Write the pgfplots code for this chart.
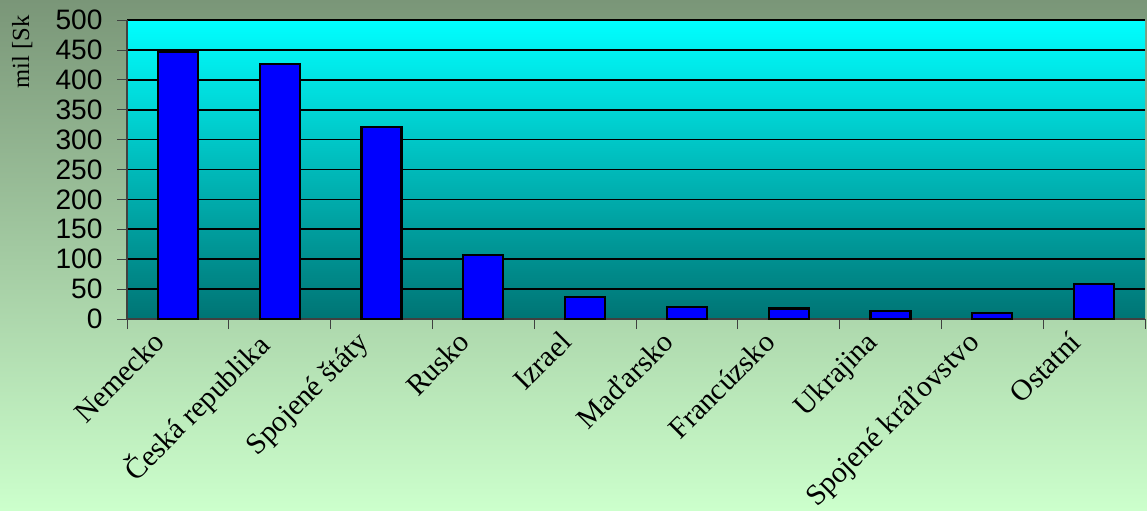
\documentclass[border=0pt]{standalone}
\usepackage{pgfplots}
\pgfplotsset{compat=1.18}
\usepackage{fontspec}
\setmainfont{Liberation Serif}
\newfontfamily\arial{Liberation Sans}
\usetikzlibrary{backgrounds}

\definecolor{bgtop}{RGB}{122,150,120}
\definecolor{bgbot}{RGB}{204,255,204}
\definecolor{plottop}{RGB}{0,255,255}
\definecolor{plotbot}{RGB}{0,116,116}
\definecolor{barblue}{RGB}{0,0,255}

\begin{document}
\begin{tikzpicture}
\path[use as bounding box] (0,0) rectangle (11.47cm,5.10cm);
\begin{axis}[
    at={(1.27cm,1.91cm)}, anchor=south west,
    scale only axis, width=10.18cm, height=2.99cm,
    ybar, bar width=0.4cm,
    xmin=-0.5, xmax=9.5, ymin=0, ymax=500,
    enlargelimits=false,
    axis background/.style={shade, top color=plottop, bottom color=plotbot},
    axis x line*=bottom, axis y line*=left,
    axis line style={-, gray!50!black},
    xtick={0,...,9},
    xticklabels={Nemecko,Česká republika,Spojené štáty,Rusko,Izrael,Maďarsko,Francúzsko,Ukrajina,Spojené kráľovstvo,Ostatní},
    major x tick style={draw=none},
    minor xtick={-0.5,0.5,...,9.5},
    minor tick length=0.1cm,
    minor x tick style={gray!50!black},
    xticklabel style={xshift=-7.5pt, yshift=1.5pt, rotate=45, anchor=north east, font=\fontsize{8.4}{10}\selectfont, inner sep=1pt},
    ytick={0,50,...,500},
    major tick length=0.1cm,
    tick align=outside,
    ytick style={gray!50!black},
    yticklabel style={font=\arial\fontsize{8}{9}\selectfont, xshift=-0.6pt},
    /pgf/number format/assume math mode=true,
    ymajorgrids, grid style={black, line width=0.5pt},
    ylabel={mil [Sk},
    ylabel style={at={(axis description cs:-0.103,0.893)}, anchor=center, font=\fontsize{7}{8}\selectfont},
]
\addplot[fill=barblue, draw=black, line width=0.6pt] coordinates {
    (0,446) (1,426) (2,321) (3,107) (4,37) (5,20) (6,17.5) (7,13) (8,10) (9,58)
};
\end{axis}
\begin{pgfonlayer}{background}
\shade[top color=bgtop, bottom color=bgbot] (0,0) rectangle (11.47cm,5.10cm);
\end{pgfonlayer}
\end{tikzpicture}
\end{document}
